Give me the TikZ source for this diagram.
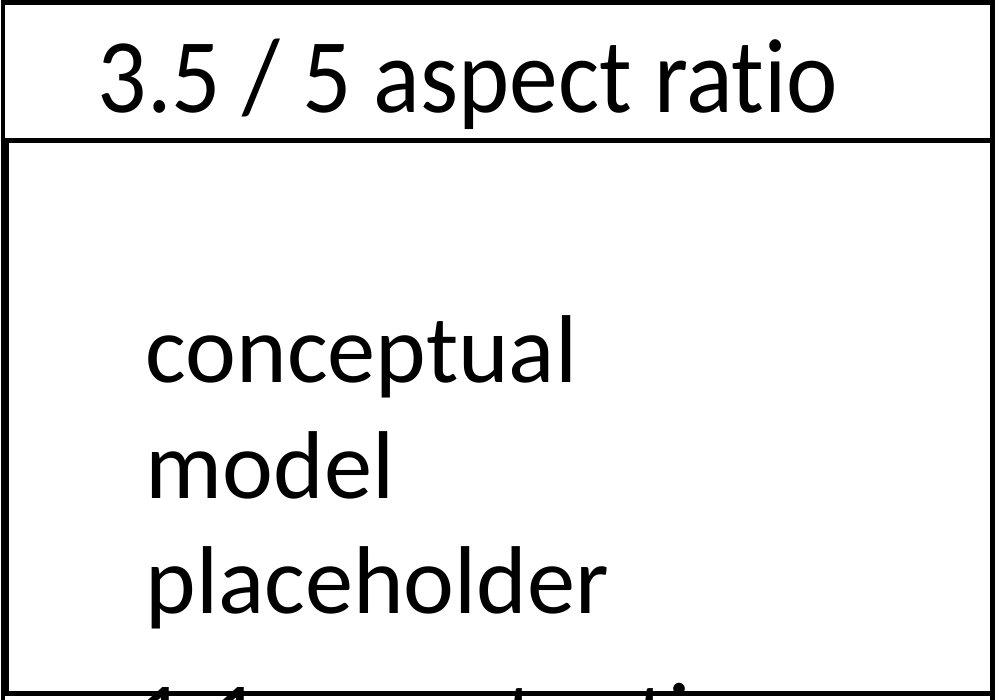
\documentclass[tikz,border=0pt]{standalone}
\usepackage{fontspec}
\setmainfont{Carlito}[Ligatures=NoCommon]
\begin{document}
\begin{tikzpicture}[x=0.01cm,y=-0.01cm,
  frame/.style={draw=black,line width=1.42pt},
  bodytext/.style={inner sep=0pt,anchor=base west,font=\fontsize{27.4}{32}\selectfont},
  titletext/.style={inner sep=0pt,anchor=base west,font=\fontsize{30.1}{36}\selectfont,xscale=0.92}]
\useasboundingbox (0,0) rectangle (1000,700);
\clip (0,0) rectangle (1000,700);
% texts
\node[titletext] (title) at (97,112) {3.5 / 5 aspect ratio};
\node[bodytext] (l1) at (145,382) {conceptual};
\node[bodytext] (l2) at (145,498) {model};
\node[bodytext] (l3) at (145,613) {placeholder};
\node[bodytext] (l4) at (136,749) {1:1 aspect ratio};
% outer frame and title box
\draw[frame] (3,730) -- (3,2.5) -- (992.5,2.5) -- (992.5,730);
\draw[frame] (3,140.5) -- (992.5,140.5);
% lower 1:1 box
\draw[frame] (7,140.5) rectangle (992.5,693.5);
\end{tikzpicture}
\end{document}
